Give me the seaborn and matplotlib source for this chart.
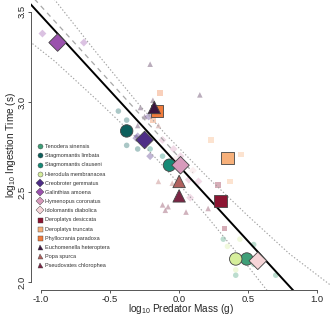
import numpy as np
import pandas as pd
import matplotlib
matplotlib.use('Agg')
import matplotlib.pyplot as plt
import seaborn as sns

# species, marker, colour
species = ['Tenodera sinensis', 'Stagmomantis limbata', 'Stagmomantis clauseni',
           'Hierodula membranacea', 'Creobroter gemmatus', 'Galinthias amoena',
           'Hymenopus coronatus', 'Idolomantis diabolica', 'Deroplatys desiccata',
           'Deroplatys truncata', 'Phyllocrania paradoxa', 'Euchomenella heteroptera',
           'Popa spurca', 'Pseudovates chlorophea']
markers = ['o', 'o', 'o', 'o', 'D', 'D', 'D', 'D', 's', 's', 's', '^', '^', '^']
colors = ['#3f9f78', '#0d5f5c', '#168a76', '#d6ee9c', '#4d2d86', '#9a52ad',
          '#d79abb', '#f6d5d8', '#8c1532', '#f7b07a', '#f07b3c', '#3b1540',
          '#b0605e', '#7b2544']

# species means (log10 mass, log10 time)
mean_x = [0.49, -0.38, -0.07, 0.41, -0.25, -0.88, 0.01, 0.57, 0.30, 0.35, -0.16, -0.18, 0.00, 0.00]
mean_y = [2.13, 2.84, 2.65, 2.13, 2.79, 3.33, 2.65, 2.12, 2.45, 2.69, 2.95, 2.97, 2.56, 2.48]

# individual observations
pt_sp = [0, 0, 0, 0, 0,
         1, 1, 1, 1, 2, 2,
         3, 3, 3,
         4, 4, 4, 4,
         5, 5, 5,
         6, 6, 6, 6, 6, 6,
         7, 7,
         8, 8,
         9, 9, 9,
         10, 10,
         11, 11, 11, 11, 11, 11,
         12, 12, 12,
         13, 13, 13, 13, 13]
pt_x = [0.32, 0.54, 0.54, 0.41, 0.70,
        -0.44, -0.38, -0.38, -0.30, -0.21, -0.12,
        0.44, 0.35, 0.41,
        -0.30, -0.31, -0.21, -0.22,
        -0.99, -0.87, -0.69,
        -0.12, -0.04, 0.01, 0.07, 0.14, 0.08,
        -0.03, 0.10,
        0.28, 0.33,
        0.23, 0.45, 0.37,
        -0.14, -0.19,
        -0.21, 0.15, -0.19, -0.28, -0.25, -0.30,
        -0.15, -0.15, -0.05,
        -0.12, -0.08, -0.10, 0.05, 0.21]
pt_y = [2.24, 2.21, 2.10, 2.04, 2.04,
        2.95, 2.90, 2.76, 2.74, 2.74, 2.70,
        2.24, 2.20, 2.07,
        2.81, 2.80, 2.70, 2.92,
        3.38, 3.31, 3.33,
        2.79, 2.74, 2.70, 2.57, 2.56, 2.47,
        2.68, 2.62,
        2.54, 2.30,
        2.79, 2.71, 2.56,
        3.05, 2.90,
        3.21, 3.04, 3.01, 2.97, 2.92, 2.87,
        2.87, 2.56, 2.55,
        2.43, 2.42, 2.40, 2.39, 2.41]

# fitted line, reference line and dotted interval
fit_x = [-1.08, 0.85]
fit_y = [3.546, 1.936]
ref_x = [-1.07, 0.10]
ref_y = [3.59, 2.61]
band_x = [-1.1, -0.9, -0.6, -0.3, -0.1, 0.2, 0.5, 0.8, 1.1]
band_lo = [3.347, 3.226, 3.015, 2.795, 2.633, 2.368, 2.088, 1.798, 1.473]
band_hi = [3.777, 3.566, 3.275, 2.995, 2.823, 2.588, 2.368, 2.158, 1.983]

sns.set_style('ticks')
plt.rcParams['font.family'] = ['Liberation Sans', 'DejaVu Sans']
plt.rcParams['mathtext.fontset'] = 'custom'
plt.rcParams['mathtext.rm'] = 'Liberation Sans'

pal = dict(zip(species, colors))
mk = dict(zip(species, markers))
pts = pd.DataFrame({'species': [species[i] for i in pt_sp], 'x': pt_x, 'y': pt_y})
means = pd.DataFrame({'species': species, 'x': mean_x, 'y': mean_y})

fig = plt.figure(figsize=(3.31, 3.17), dpi=100)
ax = fig.add_axes([0.094, 0.084, 0.906, 0.916])

sns.scatterplot(data=pts, x='x', y='y', hue='species', style='species', palette=pal,
                markers=mk, hue_order=species, style_order=species, s=16, alpha=0.35,
                linewidth=0, legend=False, ax=ax, zorder=1)

sns.lineplot(x=band_x, y=band_lo, color='#a0a0a0', lw=0.8, ls=(0, (1.2, 1.8)), ax=ax, zorder=2)
sns.lineplot(x=band_x, y=band_hi, color='#a0a0a0', lw=0.8, ls=(0, (1.2, 1.8)), ax=ax, zorder=2)
sns.lineplot(x=ref_x, y=ref_y, color='#a8a8a8', lw=0.9, ls=(0, (4, 3.5)), ax=ax, zorder=2)
sns.lineplot(x=fit_x, y=fit_y, color='black', lw=1.4, ax=ax, zorder=2)

sns.scatterplot(data=means, x='x', y='y', hue='species', style='species', palette=pal,
                markers=mk, hue_order=species, style_order=species, s=80,
                edgecolor='#444444', linewidth=0.6, ax=ax, zorder=3)

handles, labels = ax.get_legend_handles_labels()
for h in handles:
    h.set_markersize(3.6)
    h.set_markeredgewidth(0.3)
ax.legend(handles, labels, loc='upper left', bbox_to_anchor=(0.01, 0.515), frameon=False,
          fontsize=4, handletextpad=0.3, labelspacing=0.75, borderaxespad=0.2,
          handlelength=1.0, labelcolor='#333333')

ax.set_xlim(-1.072, 1.10)
ax.set_ylim(1.956, 3.566)
ax.set_xticks([-1.0, -0.5, 0.0, 0.5, 1.0])
ax.set_xticklabels(['-1.0', '-0.5', '0.0', '0.5', '1.0'])
ax.set_yticks([2.0, 2.5, 3.0, 3.5])
ax.set_yticklabels(['2.0', '2.5', '3.0', '3.5'], rotation=90, va='center')
ax.spines['left'].set_bounds(2.0, 3.5)
ax.spines['bottom'].set_bounds(-1.0, 1.0)
for s in ['left', 'bottom']:
    ax.spines[s].set_color('#555555')
    ax.spines[s].set_linewidth(0.7)
sns.despine(ax=ax)
ax.tick_params(labelsize=6.8, length=2, width=0.7, color='#555555', pad=1)
ax.set_xlabel('log$_\\mathregular{10}$ Predator Mass (g)', fontsize=7.2, labelpad=-1)
ax.set_ylabel('log$_\\mathregular{10}$ Ingestion Time (s)', fontsize=7.2, labelpad=0)

fig.savefig('out.png', dpi=100)
